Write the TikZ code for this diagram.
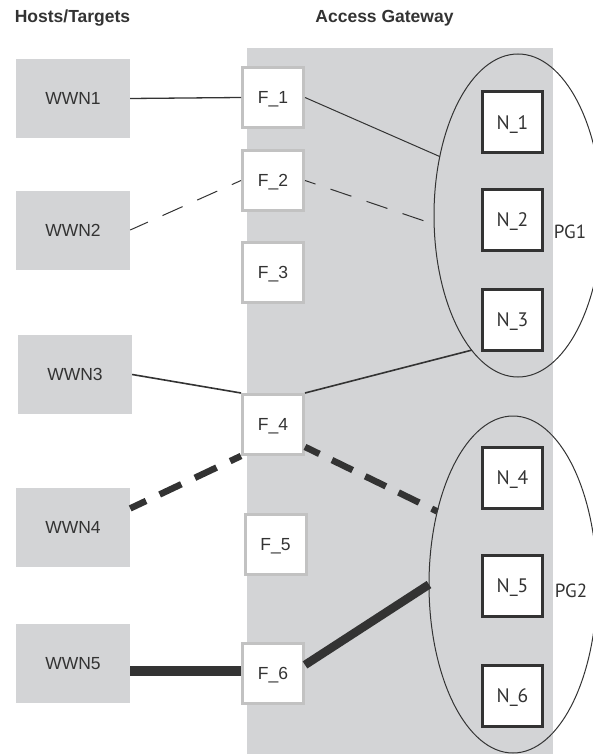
\documentclass[tikz,border=0pt]{standalone}
\usepackage{fontspec}
\setmainfont{Liberation Sans}
\newfontfamily\ptsans{PT Sans}
\usetikzlibrary{shapes.geometric}
\definecolor{gwfill}{HTML}{D3D4D6}
\definecolor{ink}{HTML}{333333}
\definecolor{portline}{HTML}{C2C2C2}
\begin{document}
\begin{tikzpicture}[x=1pt,y=-1pt,
    heading/.style={font=\bfseries\fontsize{17.5}{17.5}\selectfont, text=ink, anchor=base, inner sep=0pt},
    host/.style={fill=gwfill, minimum width=114pt, minimum height=79pt, inner sep=0pt,
      text=ink, font=\fontsize{17.5}{17.5}\selectfont, text height=12.5pt, text depth=0pt},
    port/.style={draw=portline, line width=3pt, fill=white, minimum width=61pt, minimum height=60pt,
      inner sep=0pt, text=ink, font=\fontsize{17.5}{17.5}\selectfont, text height=12.5pt, text depth=0pt},
    nport/.style={draw=ink, line width=3pt, fill=white, minimum width=60pt, minimum height=61pt,
      inner sep=0pt, text=ink, font=\ptsans\fontsize{19.5}{19.5}\selectfont, text height=13.6pt, text depth=0pt},
    group/.style={ellipse, draw=ink, line width=1pt, inner sep=0pt, outer sep=0pt, minimum width=168pt},
    grouplabel/.style={text=ink, font=\ptsans\fontsize{19}{19}\selectfont, inner sep=0pt},
    link/.style={ink, line width=1.3pt},
    thinlink/.style={ink, line width=1pt},
    dashlink/.style={ink, line width=1pt, dash pattern=on 22pt off 16pt},
    heavydash/.style={ink, line width=6.5pt, dash pattern=on 24pt off 15pt},
    heavylink/.style={ink, line width=9.5pt}
  ]
  \useasboundingbox (0,0) rectangle (592,754);

  %Gateway area
  \fill[gwfill] (247,48) rectangle (553,754);

  %Headings
  \node[heading] (HostsHead) at (72.5,23) {Hosts/Targets};
  \node[heading] (GatewayHead) at (384.5,23) {Access Gateway};

  %Hosts
  \node[host] (WWN1) at (73,98.5) {WWN1};
  \node[host] (WWN2) at (73,230) {WWN2};
  \node[host] (WWN3) at (75,374.5) {WWN3};
  \node[host] (WWN4) at (73,527) {WWN4};
  \node[host] (WWN5) at (73,663.5) {WWN5};

  %F ports
  \node[port] (F1) at (273,97.5) {F\_1};
  \node[port] (F2) at (273,180.5) {F\_2};
  \node[port] (F3) at (273,272) {F\_3};
  \node[port] (F4) at (273,424.5) {F\_4};
  \node[port] (F5) at (275.5,544.5) {F\_5};
  \node[port] (F6) at (273,673.5) {F\_6};

  %N ports
  \node[nport] (N1) at (512.5,122.5) {N\_1};
  \node[nport] (N2) at (512.5,220) {N\_2};
  \node[nport] (N3) at (512.5,320) {N\_3};
  \node[nport] (N4) at (512.5,477.5) {N\_4};
  \node[nport] (N5) at (512.5,586) {N\_5};
  \node[nport] (N6) at (512.5,696) {N\_6};

  %Port groups
  \node[group, minimum height=323pt] (PG1) at (518,215.5) {};
  \node[group, minimum height=337pt] (PG2) at (513,584.5) {};
  \node[grouplabel] (PG1Label) at (570,232) {PG1};
  \node[grouplabel] (PG2Label) at (571,591) {PG2};

  %Links
  \draw[link] (WWN1.east) -- (F1.west);
  \draw[thinlink] (F1.east) -- (PG1.143.5);
  \draw[dashlink, dash phase=12pt] (F2.west) -- (WWN2.east);
  \draw[dashlink, dash phase=11pt] (F2.east) -- (PG1.186);
  \draw[link, line width=1.6pt] (WWN3.east) -- (F4.north west);
  \draw[link, line width=1.6pt] (F4.north east) -- (PG1.251);
  \draw[heavydash, dash phase=12pt] (F4.south west) -- (WWN4.18);
  \draw[heavydash, dash pattern=on 23pt off 14pt, dash phase=7pt] (F4.-35) -- (PG2.136);
  \draw[heavylink] ([yshift=2.5pt]WWN5.east |- F6.west) -- ([yshift=2.5pt]F6.west);
  \draw[heavylink, line width=8.5pt] (F6.15) -- (PG2.west);
\end{tikzpicture}
\end{document}
